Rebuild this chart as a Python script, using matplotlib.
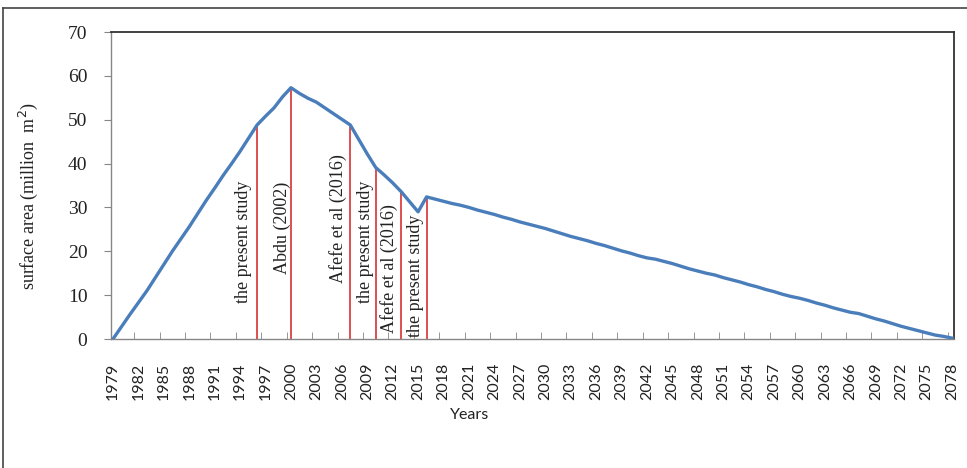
import matplotlib
matplotlib.use("Agg")
import matplotlib.pyplot as plt
from matplotlib.lines import Line2D

# lake surface area per year, million m2
years = list(range(1979, 2079))
area = [
    0.0, 2.8, 5.6, 8.3, 11.0, 14.0, 17.0, 20.0, 22.8, 25.6,        # 1979-1988
    28.6, 31.6, 34.4, 37.3, 40.0, 42.8, 45.8, 48.8, 50.8, 52.7,    # 1989-1998
    55.2, 57.3, 56.0, 54.9, 54.0, 52.7, 51.4, 50.1, 48.8, 45.5,    # 1999-2008
    42.2, 39.1, 37.4, 35.6, 33.6, 31.3, 29.0, 32.4, 31.9, 31.4,    # 2009-2018
    30.9, 30.5, 30.0, 29.4, 28.9, 28.4, 27.8, 27.3, 26.7, 26.2,    # 2019-2028
    25.7, 25.2, 24.6, 24.0, 23.4, 22.9, 22.4, 21.8, 21.3, 20.7,    # 2029-2038
    20.1, 19.6, 19.0, 18.5, 18.2, 17.7, 17.2, 16.6, 16.0, 15.5,    # 2039-2048
    15.0, 14.6, 14.0, 13.5, 13.0, 12.4, 11.9, 11.3, 10.8, 10.2,    # 2049-2058
    9.7, 9.3, 8.8, 8.2, 7.7, 7.1, 6.6, 6.1, 5.8, 5.2,              # 2059-2068
    4.6, 4.1, 3.5, 2.9, 2.4, 1.9, 1.4, 0.9, 0.6, 0.2,              # 2069-2078
]

# reference estimates marked on the curve
ref_years = [1996, 2000, 2007, 2010, 2013, 2016]
ref_labels = ["the present study", "Abdu (2002)", "Afefe et al (2016)",
              "the present study", "Afefe et al (2016)", "the present study"]

tick_years = list(range(1979, 2079, 3))

# where each rotated label starts (bottom end, in y units) and its shift left of the line
label_base = [8.2, 14.8, 12.8, 8.2, 1.4, 0.5]
label_shift = [1.6, 1.0, 1.4, 1.2, 1.4, 1.3]

fig = plt.figure(figsize=(9.67, 4.68), dpi=100)
ax = fig.add_axes([111 / 967, 1 - 339 / 468, (954 - 111) / 967, (339 - 32) / 468])

ax.plot(years, area, color="#4a7ebb", lw=2.4, solid_joinstyle="round", zorder=3)

yr_to_val = dict(zip(years, area))
for yr, lab, base, dx in zip(ref_years, ref_labels, label_base, label_shift):
    ax.plot([yr, yr], [0, yr_to_val[yr]], color="#d42020", lw=1.1, zorder=2)
    ax.text(yr - dx, base, lab, rotation=90, ha="center", va="bottom",
            fontsize=13, family="Liberation Serif", color="#222222")

ax.set_xlim(1979 - 2 / 8.475, 2078 + 2 / 8.475)
ax.set_ylim(0, 70)

ax.set_yticks(range(0, 80, 10))
ax.set_yticklabels([str(v) for v in range(0, 80, 10)], family="Liberation Serif",
                   fontsize=14, color="#222222")
ax.tick_params(axis="y", direction="out", length=5, color="#868686", pad=12)

ax.set_xticks(tick_years)
ax.set_xticklabels([str(y) for y in tick_years], rotation=90, family="Lato",
                   fontsize=11.5, color="#222222")
ax.tick_params(axis="x", which="major", length=0, pad=17)
ax.set_xticks([y + 2.5 for y in tick_years[:-1]], minor=True)
ax.tick_params(axis="x", which="minor", direction="in", length=5, color="#868686")

for side in ["left", "bottom"]:
    ax.spines[side].set_color("#868686")
    ax.spines[side].set_linewidth(1.0)
for side in ["top", "right"]:
    ax.spines[side].set_color("#333333")
    ax.spines[side].set_linewidth(1.3)

fig.text(28 / 967, 1 - 196 / 468, "surface area (million  m$^2$)", rotation=90,
         ha="center", va="center", fontsize=13, family="Liberation Serif",
         color="#222222")
fig.text(470 / 967, 1 - 415 / 468, "Years", ha="center", va="center",
         fontsize=11.5, family="Lato", color="#222222")

# outer frame of the figure panel
fig.add_artist(Line2D([3 / 967, 3 / 967], [0, 1 - 8 / 468], transform=fig.transFigure,
                      color="#444444", lw=1.2))
fig.add_artist(Line2D([3 / 967, 1], [1 - 8 / 468, 1 - 8 / 468], transform=fig.transFigure,
                      color="#444444", lw=1.2))

fig.savefig("out.png", dpi=100)
